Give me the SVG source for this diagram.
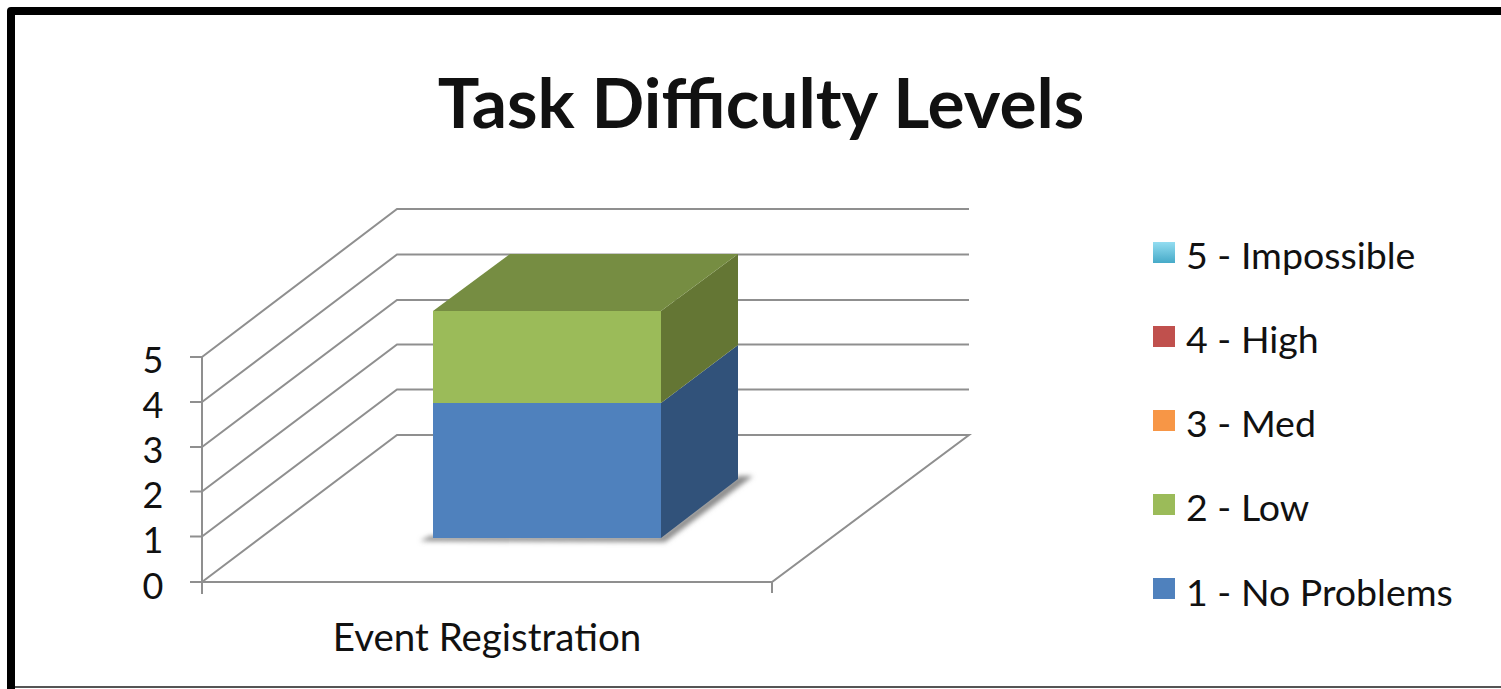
<svg xmlns="http://www.w3.org/2000/svg" width="1501" height="689" viewBox="0 0 1501 689">
<style>
.grid{stroke:#8f8f8f;stroke-width:2;fill:none}
.txt{font-family:Lato,"Open Sans","Liberation Sans",sans-serif;fill:#111}
.lab{font-size:36px}
.leg{font-size:37.5px}
</style>
<defs>
<linearGradient id="cyan" x1="0" y1="0" x2="0" y2="1"><stop offset="0" stop-color="#93DDF1"/><stop offset="1" stop-color="#46AAC8"/></linearGradient>
<filter id="blur" x="-10%" y="-50%" width="120%" height="200%"><feGaussianBlur stdDeviation="2.5"/></filter>
</defs>
<rect x="0" y="0" width="1501" height="689" fill="#fff"/>
<g id="frame">
<path d="M11,689 V11 H1501" fill="none" stroke="#000" stroke-width="8" stroke-linejoin="round"/>
<line x1="15" y1="687" x2="1501" y2="687" stroke="#555" stroke-width="2"/>
</g>
<g id="title"><text class="txt" x="761" y="128" font-size="69.5" font-weight="bold" text-anchor="middle">Task Difficulty Levels</text></g>
<g id="axes">
<g class="grid">
<polyline points="202,357 397,209 969,209"/>
<polyline points="202,402 397,254.5 969,254.5"/>
<polyline points="202,447 397,300 969,300"/>
<polyline points="202,491.5 397,344.5 969,344.5"/>
<polyline points="202,536.5 397,389.5 969,389.5"/>
<polyline points="202,582 397,435 969,435 772,582 202,582"/>
<line x1="202" y1="357" x2="202" y2="594"/>
<line x1="190" y1="357" x2="202" y2="357"/>
<line x1="190" y1="402" x2="202" y2="402"/>
<line x1="190" y1="447" x2="202" y2="447"/>
<line x1="190" y1="491.5" x2="202" y2="491.5"/>
<line x1="190" y1="536.5" x2="202" y2="536.5"/>
<line x1="190" y1="582" x2="202" y2="582"/>
<line x1="772" y1="582" x2="772" y2="593"/>
</g>
<g class="txt lab" text-anchor="middle">
<text x="153" y="373">5</text>
<text x="153" y="418">4</text>
<text x="153" y="463">3</text>
<text x="153" y="508">2</text>
<text x="153" y="553">1</text>
<text x="153" y="599">0</text>
<text x="487" y="651" font-size="38.5">Event Registration</text>
</g>
</g>
<g id="bar">
<polygon points="420,541 665,542 753,476 738,476 661,536 430,536" fill="#8a8a8a" filter="url(#blur)"/>
<rect x="433" y="403" width="228" height="135" fill="#4F81BD"/>
<polygon points="661,403 738,345 738,479 661,538" fill="#31527A"/>
<rect x="433" y="311" width="228" height="92" fill="#9BBB59"/>
<polygon points="661,311 738,254 738,345 661,403" fill="#647634"/>
<polygon points="433,311 510,254 738,254 661,311" fill="#768D42"/>
</g>
<g id="legend">
<rect x="1153" y="242" width="22" height="21" fill="url(#cyan)"/>
<rect x="1153" y="326" width="22" height="21" fill="#C0504D"/>
<rect x="1153" y="410" width="22" height="21" fill="#F79646"/>
<rect x="1153" y="494" width="22" height="21" fill="#9BBB59"/>
<rect x="1153" y="578" width="22" height="21" fill="#4F81BD"/>
<g class="txt leg">
<text x="1186" y="269">5 - Impossible</text>
<text x="1186" y="353">4 - High</text>
<text x="1186" y="437">3 - Med</text>
<text x="1186" y="521">2 - Low</text>
<text x="1186" y="606">1 - No Problems</text>
</g>
</g>
</svg>
